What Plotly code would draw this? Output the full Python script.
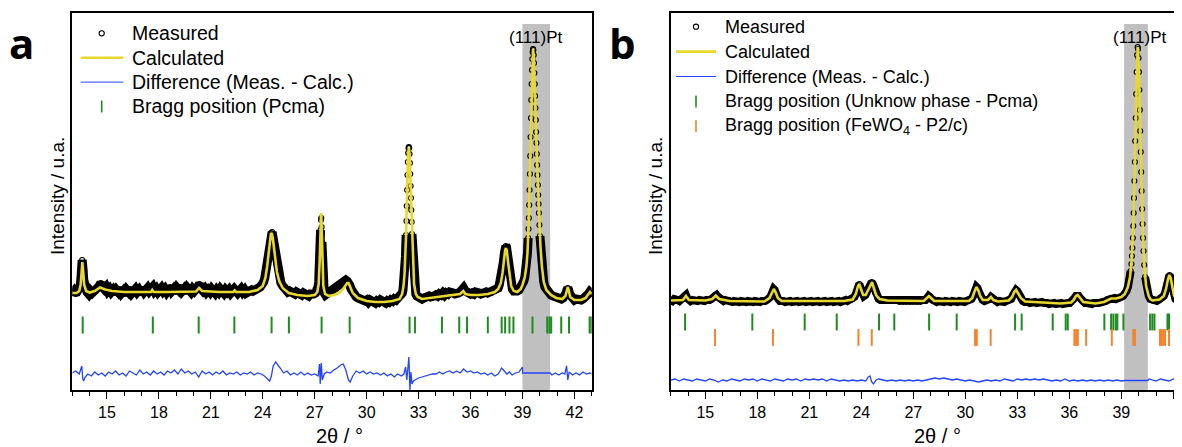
import plotly.graph_objects as go

# ---------------- Panel a data (2theta in degrees, intensity in arbitrary units) ----------------
MEAS_A = [
    (13.0, 97), (13.1, 99), (13.2, 96), (13.3, 98), (13.4, 100), (13.46, 104), (13.5, 112), (13.54, 122),
    (13.57, 130), (13.6, 127), (13.63, 119), (13.66, 110), (13.7, 104), (13.75, 100), (13.85, 98), (13.95, 96),
    (14.05, 99), (14.15, 97), (14.25, 100), (14.35, 99), (14.45, 102), (14.55, 104), (14.65, 107), (14.75, 103),
    (14.85, 101), (14.95, 103), (15.05, 99), (15.15, 101), (15.25, 98), (15.35, 100), (15.45, 97), (15.55, 100),
    (15.65, 98), (15.75, 101), (15.85, 97), (15.95, 99), (16.05, 96), (16.15, 100), (16.25, 98), (16.35, 101),
    (16.45, 97), (16.55, 99), (16.65, 101), (16.75, 98), (16.85, 100), (16.95, 97), (17.05, 101), (17.15, 98),
    (17.25, 100), (17.35, 102), (17.45, 99), (17.55, 101), (17.65, 103), (17.75, 99), (17.85, 101), (17.95, 98),
    (18.05, 100), (18.15, 102), (18.25, 99), (18.35, 101), (18.45, 98), (18.55, 100), (18.65, 103), (18.75, 99),
    (18.85, 101), (18.95, 98), (19.05, 102), (19.15, 100), (19.25, 103), (19.35, 99), (19.45, 101), (19.55, 98),
    (19.65, 102), (19.75, 100), (19.85, 98), (19.95, 101), (20.05, 99), (20.15, 101), (20.25, 103), (20.35, 106),
    (20.45, 101), (20.55, 99), (20.65, 101), (20.75, 98), (20.85, 100), (20.95, 98), (21.05, 101), (21.15, 99),
    (21.25, 97), (21.35, 100), (21.45, 98), (21.55, 101), (21.65, 99), (21.75, 97), (21.85, 100), (21.95, 98),
    (22.05, 100), (22.15, 97), (22.25, 99), (22.35, 101), (22.45, 99), (22.55, 97), (22.65, 99), (22.75, 101),
    (22.85, 98), (22.95, 100), (23.05, 97), (23.15, 99), (23.25, 98), (23.35, 100), (23.45, 99), (23.55, 101),
    (23.65, 100), (23.75, 102), (23.85, 103), (23.95, 105), (24.05, 108), (24.12, 112), (24.18, 118), (24.24, 125),
    (24.3, 134), (24.36, 143), (24.42, 151), (24.48, 157), (24.54, 158), (24.6, 152), (24.66, 144), (24.72, 135),
    (24.78, 127), (24.84, 121), (24.9, 115), (24.97, 111), (25.05, 107), (25.15, 104), (25.25, 101), (25.35, 100),
    (25.45, 98), (25.55, 99), (25.65, 97), (25.75, 98), (25.85, 96), (25.95, 98), (26.05, 96), (26.15, 97),
    (26.25, 95), (26.35, 97), (26.45, 95), (26.55, 96), (26.65, 94), (26.75, 96), (26.85, 95), (26.95, 96),
    (27.05, 97), (27.13, 99), (27.19, 103), (27.23, 108), (27.26, 116), (27.28, 125), (27.3, 136), (27.32, 148),
    (27.34, 160), (27.36, 170), (27.38, 172), (27.4, 163), (27.42, 148), (27.44, 132), (27.46, 118), (27.48, 108),
    (27.51, 101), (27.55, 97), (27.62, 95), (27.7, 96), (27.8, 97), (27.9, 98), (28.0, 100), (28.1, 101),
    (28.2, 103), (28.3, 104), (28.4, 106), (28.5, 107), (28.6, 108), (28.7, 109), (28.8, 110), (28.88, 109),
    (28.95, 108), (29.02, 105), (29.1, 101), (29.2, 97), (29.3, 95), (29.4, 93), (29.5, 92), (29.6, 91),
    (29.7, 90), (29.8, 91), (29.9, 89), (30.0, 90), (30.1, 88), (30.2, 90), (30.3, 88), (30.4, 89),
    (30.5, 87), (30.6, 89), (30.7, 88), (30.8, 90), (30.9, 88), (31.0, 89), (31.1, 87), (31.2, 89),
    (31.3, 88), (31.4, 90), (31.5, 89), (31.6, 91), (31.7, 90), (31.8, 92), (31.9, 93), (32.0, 95),
    (32.06, 97), (32.1, 100), (32.13, 104), (32.16, 109), (32.19, 116), (32.22, 125), (32.24, 133), (32.26, 143),
    (32.28, 155), (32.3, 169), (32.32, 184), (32.34, 200), (32.36, 215), (32.38, 228), (32.4, 237), (32.42, 242),
    (32.44, 243), (32.46, 242), (32.48, 236), (32.5, 227), (32.52, 216), (32.54, 204), (32.56, 192), (32.58, 180),
    (32.6, 168), (32.62, 156), (32.64, 145), (32.66, 135), (32.68, 125), (32.71, 114), (32.74, 106), (32.78, 100),
    (32.84, 96), (32.9, 94), (33.0, 92),
    (33.1, 93), (33.2, 91), (33.3, 92), (33.4, 93), (33.5, 92), (33.6, 94), (33.7, 93), (33.8, 95),
    (33.9, 94), (34.0, 95), (34.1, 94), (34.2, 96), (34.3, 95), (34.4, 97), (34.5, 95), (34.6, 97),
    (34.7, 96), (34.8, 98), (34.9, 96), (35.0, 97), (35.1, 96), (35.2, 98), (35.3, 97), (35.4, 98),
    (35.5, 99), (35.6, 102), (35.7, 99), (35.8, 97), (35.9, 98), (36.0, 96), (36.1, 97), (36.2, 96),
    (36.3, 98), (36.4, 96), (36.5, 97), (36.6, 96), (36.7, 97), (36.8, 96), (36.9, 98), (37.0, 97),
    (37.1, 98), (37.2, 97), (37.3, 99), (37.4, 99), (37.5, 100), (37.6, 102), (37.66, 105), (37.72, 109),
    (37.78, 114), (37.84, 120), (37.9, 128), (37.95, 136), (38.0, 142), (38.04, 144), (38.08, 143), (38.12, 138),
    (38.17, 129), (38.22, 119), (38.28, 110), (38.35, 104), (38.42, 101), (38.5, 99), (38.6, 98), (38.7, 99),
    (38.8, 100), (38.9, 102), (39.0, 106), (39.08, 109), (39.14, 113), (39.19, 118), (39.23, 124), (39.26, 130),
    (39.29, 137), (39.31, 144), (39.33, 152), (39.35, 161), (39.37, 172), (39.39, 185), (39.41, 200), (39.43, 216),
    (39.45, 234), (39.47, 253), (39.49, 272), (39.51, 290), (39.53, 306), (39.55, 320), (39.57, 331), (39.59, 338),
    (39.61, 341), (39.63, 340), (39.65, 335), (39.67, 327), (39.69, 317), (39.71, 306), (39.73, 294), (39.75, 282),
    (39.77, 270), (39.79, 258), (39.81, 247), (39.83, 236), (39.85, 225), (39.87, 215), (39.89, 205), (39.91, 195),
    (39.93, 186), (39.95, 177), (39.98, 165), (40.01, 154), (40.04, 144), (40.08, 133), (40.12, 124), (40.17, 115),
    (40.23, 108), (40.3, 103), (40.38, 100), (40.46, 98), (40.55, 97), (40.65, 95), (40.75, 94), (40.85, 93),
    (40.95, 92), (41.05, 91), (41.15, 92), (41.25, 91), (41.35, 92), (41.45, 94), (41.52, 97), (41.57, 100),
    (41.62, 102), (41.67, 100), (41.72, 96), (41.8, 93), (41.9, 91), (42.0, 90), (42.1, 91), (42.2, 90),
    (42.3, 91), (42.4, 90), (42.5, 91), (42.6, 92), (42.7, 94), (42.8, 96), (42.88, 98), (42.95, 97), (43.0, 96),
]

CALC_A = [
    (13.00, 97), (13.25, 97), (13.40, 99), (13.48, 105), (13.53, 116), (13.58, 128), (13.63, 118), (13.69, 105),
    (13.80, 99), (14.00, 97.5), (14.30, 99), (14.60, 102.5), (14.90, 100.5), (15.30, 99), (16.00, 98),
    (17.00, 98), (17.55, 98), (17.62, 100), (17.70, 98), (18.50, 98), (19.50, 98), (20.15, 98.5), (20.32, 102),
    (20.50, 99), (21.50, 98), (22.30, 98), (22.38, 99.5), (22.46, 98), (23.20, 98), (23.70, 100), (24.00, 104),
    (24.15, 112), (24.25, 123), (24.33, 136), (24.40, 148), (24.47, 156), (24.52, 157), (24.58, 152), (24.65, 142),
    (24.73, 129), (24.82, 118), (24.95, 109), (25.15, 102), (25.50, 97), (26.00, 95), (26.60, 94), (27.00, 95),
    (27.15, 98), (27.23, 106), (27.29, 130), (27.33, 160), (27.37, 177), (27.41, 158), (27.45, 125), (27.50, 104),
    (27.60, 96), (27.80, 94), (28.10, 95), (28.40, 97), (28.60, 100), (28.75, 104), (28.88, 107), (28.96, 107),
    (29.05, 103), (29.20, 97), (29.50, 92), (30.00, 89), (30.50, 88), (31.00, 88), (31.50, 89), (31.90, 91),
    (32.05, 96), (32.13, 104), (32.19, 116), (32.24, 133), (32.28, 155), (32.32, 184), (32.36, 215), (32.40, 237),
    (32.44, 242), (32.48, 236), (32.52, 216), (32.56, 192), (32.60, 168), (32.64, 145), (32.68, 125), (32.74, 106),
    (32.84, 96), (32.95, 93), (33.20, 91), (33.60, 92), (34.00, 93), (34.50, 94), (35.00, 95), (35.40, 96),
    (35.58, 99), (35.70, 96), (36.00, 95), (36.50, 95), (37.00, 96), (37.40, 98), (37.60, 101), (37.75, 107),
    (37.85, 117), (37.93, 130), (38.00, 140), (38.05, 142), (38.10, 139), (38.17, 128), (38.25, 114), (38.35, 104),
    (38.50, 99), (38.70, 98), (38.90, 101), (39.00, 105), (39.14, 113), (39.23, 124), (39.29, 137), (39.33, 152),
    (39.37, 172), (39.41, 200), (39.45, 234), (39.49, 272), (39.53, 306), (39.57, 331), (39.61, 341), (39.65, 335),
    (39.69, 317), (39.73, 294), (39.77, 270), (39.81, 247), (39.85, 225), (39.89, 205), (39.93, 186), (39.98, 165),
    (40.04, 144), (40.12, 124), (40.23, 108), (40.38, 100), (40.55, 97), (40.65, 95), (40.95, 92), (41.30, 91),
    (41.48, 94), (41.56, 99), (41.62, 103), (41.68, 99), (41.76, 93), (42.00, 90), (42.40, 90), (42.65, 92),
    (42.80, 96), (42.90, 98), (43.00, 96),
]

DIFF_A = [
    (13.0, 17), (13.2, 19), (13.4, 16), (13.55, 24), (13.6, 12), (13.65, 9), (13.75, 13), (13.9, 16),
    (14.1, 14), (14.3, 18), (14.5, 15), (14.7, 17), (14.9, 14), (15.1, 18), (15.3, 16), (15.5, 19),
    (15.7, 15), (15.9, 17), (16.1, 14), (16.3, 19), (16.5, 17), (16.7, 15), (16.9, 20), (17.1, 16),
    (17.3, 18), (17.5, 15), (17.7, 19), (17.9, 16), (18.1, 18), (18.3, 15), (18.5, 19), (18.7, 17),
    (18.9, 20), (19.1, 16), (19.3, 21), (19.5, 17), (19.7, 19), (19.9, 16), (20.1, 18), (20.3, 13),
    (20.5, 19), (20.7, 16), (20.9, 18), (21.1, 15), (21.3, 18), (21.5, 16), (21.7, 19), (21.9, 15),
    (22.1, 17), (22.3, 16), (22.5, 18), (22.7, 15), (22.9, 17), (23.1, 16), (23.3, 18), (23.5, 15),
    (23.7, 17), (23.9, 16), (24.1, 14), (24.3, 11), (24.4, 9), (24.5, 14), (24.6, 24), (24.75, 28),
    (24.9, 25), (25.05, 21), (25.2, 17), (25.4, 19), (25.6, 15), (25.8, 17), (26.0, 15), (26.2, 18),
    (26.4, 15), (26.6, 17), (26.8, 15), (27.0, 16), (27.2, 14), (27.28, 26), (27.32, 6), (27.38, 27),
    (27.44, 10), (27.55, 16), (27.7, 18), (27.9, 17), (28.1, 20), (28.3, 22), (28.5, 25), (28.65, 26),
    (28.8, 20), (28.95, 10), (29.05, 8), (29.2, 14), (29.4, 19), (29.6, 17), (29.8, 19), (30.0, 16),
    (30.2, 18), (30.4, 16), (30.6, 17), (30.8, 15), (31.0, 17), (31.2, 14), (31.4, 16), (31.6, 13),
    (31.8, 16), (32.0, 14), (32.15, 16), (32.25, 23), (32.32, 10), (32.38, 25), (32.44, 33), (32.5, 0),
    (32.56, 18), (32.62, 6), (32.7, 9), (32.8, 10), (33.0, 12), (33.2, 13), (33.4, 14), (33.6, 15),
    (33.8, 16), (34.0, 16), (34.2, 18), (34.4, 16), (34.6, 18), (34.8, 19), (35.0, 17), (35.2, 19),
    (35.4, 17), (35.6, 21), (35.8, 18), (36.0, 19), (36.2, 17), (36.4, 18), (36.6, 16), (36.8, 17),
    (37.0, 15), (37.2, 17), (37.4, 14), (37.6, 16), (37.8, 22), (37.95, 19), (38.1, 16), (38.25, 18),
    (38.4, 15), (38.6, 17), (38.8, 18), (39.0, 23), (39.01, 17), (40.6, 17), (40.7, 15), (40.9, 17),
    (41.1, 15), (41.3, 17), (41.45, 16), (41.55, 24), (41.62, 10), (41.7, 18), (41.9, 15), (42.1, 17),
    (42.3, 15), (42.5, 18), (42.7, 16), (42.9, 17), (43.0, 16),
]

BRAGG_A = [13.60, 17.65, 20.30, 22.36, 24.51, 25.51, 27.40, 29.02, 32.48, 32.79, 34.35, 35.35, 35.80,
           37.00, 37.80, 38.00, 38.25, 38.48, 39.58, 40.43, 40.56, 40.66, 41.24, 41.69, 42.88, 42.98]

# ---------------- Panel b data ----------------
MEAS_B = [
    (13.0, 90), (13.1, 89), (13.2, 91), (13.3, 89), (13.4, 90), (13.5, 89), (13.6, 90), (13.7, 91),
    (13.8, 93), (13.88, 95), (13.95, 92), (14.05, 90), (14.15, 89), (14.25, 90), (14.35, 89), (14.45, 90),
    (14.55, 89), (14.65, 90), (14.75, 89), (14.85, 90), (14.95, 89), (15.05, 90), (15.15, 89), (15.25, 90),
    (15.35, 91), (15.45, 93), (15.55, 95), (15.65, 95), (15.75, 93), (15.85, 91), (15.95, 90), (16.05, 89),
    (16.15, 90), (16.25, 89), (16.35, 90), (16.45, 89), (16.55, 88), (16.65, 89), (16.75, 88), (16.85, 89),
    (16.95, 88), (17.05, 89), (17.15, 88), (17.25, 89), (17.35, 88), (17.45, 89), (17.55, 88), (17.65, 89),
    (17.75, 88), (17.85, 89), (17.95, 88), (18.05, 89), (18.15, 88), (18.25, 89), (18.35, 88), (18.45, 89),
    (18.55, 90), (18.65, 91), (18.75, 93), (18.82, 96), (18.88, 99), (18.94, 101), (19.0, 100), (19.06, 97),
    (19.12, 93), (19.2, 91), (19.3, 89), (19.4, 90), (19.5, 89), (19.6, 88), (19.7, 89), (19.8, 88),
    (19.9, 89), (20.0, 88), (20.1, 89), (20.2, 88), (20.3, 89), (20.4, 88), (20.5, 89), (20.6, 88),
    (20.7, 89), (20.8, 88), (20.9, 89), (21.0, 88), (21.1, 89), (21.2, 88), (21.3, 89), (21.4, 88),
    (21.5, 89), (21.6, 88), (21.7, 89), (21.8, 88), (21.9, 89), (22.0, 88), (22.1, 89), (22.2, 88),
    (22.3, 89), (22.4, 88), (22.5, 89), (22.6, 88), (22.7, 89), (22.8, 88), (22.9, 89), (23.0, 89),
    (23.1, 90), (23.2, 89), (23.3, 90), (23.4, 90), (23.5, 91), (23.6, 93), (23.7, 97), (23.76, 101),
    (23.82, 105), (23.88, 106), (23.94, 103), (24.0, 98), (24.07, 95), (24.15, 94), (24.23, 95), (24.3, 97),
    (24.38, 100), (24.46, 104), (24.54, 107), (24.6, 108), (24.66, 106), (24.72, 102), (24.8, 97), (24.9, 93),
    (25.0, 91), (25.1, 90), (25.2, 90), (25.3, 89), (25.4, 90), (25.5, 89), (25.6, 90), (25.7, 89),
    (25.8, 89), (25.9, 90), (26.0, 89), (26.1, 89), (26.2, 88), (26.3, 89), (26.4, 88), (26.5, 89),
    (26.6, 88), (26.7, 89), (26.8, 88), (26.9, 89), (27.0, 88), (27.1, 89), (27.2, 88), (27.3, 89),
    (27.4, 88), (27.5, 89), (27.6, 89), (27.7, 90), (27.8, 92), (27.88, 94), (27.95, 93), (28.05, 91),
    (28.15, 89), (28.25, 89), (28.35, 88), (28.45, 89), (28.55, 88), (28.65, 89), (28.75, 88), (28.85, 89),
    (28.95, 88), (29.05, 89), (29.15, 88), (29.25, 89), (29.35, 88), (29.45, 89), (29.55, 88), (29.65, 89),
    (29.75, 88), (29.85, 89), (29.95, 88), (30.05, 89), (30.15, 89), (30.25, 90), (30.35, 91), (30.45, 94),
    (30.52, 98), (30.58, 101), (30.64, 103), (30.7, 102), (30.76, 99), (30.82, 95), (30.9, 92), (31.0, 90),
    (31.1, 89), (31.2, 89), (31.3, 90), (31.4, 91), (31.48, 93), (31.56, 92), (31.65, 90), (31.75, 89),
    (31.85, 88), (31.95, 89), (32.05, 88), (32.15, 89), (32.25, 88), (32.35, 89), (32.45, 89), (32.55, 90),
    (32.65, 91), (32.72, 94), (32.79, 97), (32.86, 99), (32.93, 100), (33.0, 99), (33.07, 96), (33.14, 93),
    (33.22, 91), (33.32, 89), (33.42, 88), (33.52, 89), (33.62, 88), (33.72, 87), (33.82, 88), (33.92, 87),
    (34.02, 88), (34.12, 87), (34.22, 88), (34.32, 87), (34.42, 88), (34.52, 87), (34.62, 88), (34.72, 87),
    (34.82, 86), (34.92, 87), (35.02, 86), (35.12, 87), (35.22, 86), (35.32, 87), (35.42, 86), (35.52, 87),
    (35.62, 86), (35.72, 87), (35.82, 86), (35.92, 87), (36.02, 87), (36.12, 88), (36.22, 90), (36.3, 92),
    (36.38, 94), (36.46, 95), (36.54, 94), (36.62, 92), (36.7, 90), (36.8, 88), (36.9, 87), (37.0, 87),
    (37.1, 86), (37.2, 87), (37.3, 86), (37.4, 87), (37.5, 86), (37.6, 87), (37.7, 87), (37.8, 87),
    (37.9, 88), (38.0, 88), (38.1, 89), (38.2, 90), (38.3, 91), (38.4, 92), (38.5, 92), (38.6, 92),
    (38.7, 91), (38.8, 91), (38.9, 92), (39.0, 93), (39.1, 94), (39.2, 96), (39.3, 99), (39.38, 103),
    (39.45, 108), (39.5, 113), (39.54, 119), (39.58, 126), (39.61, 134), (39.64, 142), (39.665, 152), (39.69, 164),
    (39.71, 177), (39.73, 192), (39.755, 209), (39.78, 228), (39.8, 249), (39.83, 272), (39.855, 296), (39.88, 318),
    (39.91, 335), (39.94, 343), (39.965, 341), (39.99, 332), (40.015, 318), (40.04, 300), (40.065, 280), (40.09, 259),
    (40.12, 238), (40.145, 218), (40.17, 199), (40.2, 181), (40.225, 166), (40.25, 152), (40.28, 139), (40.32, 125),
    (40.37, 113), (40.43, 104), (40.5, 98), (40.58, 94), (40.67, 91), (40.77, 90), (40.85, 89), (40.95, 90),
    (41.05, 89), (41.15, 90), (41.25, 91), (41.35, 92), (41.45, 94), (41.52, 97), (41.58, 102), (41.63, 107),
    (41.68, 111), (41.73, 114), (41.78, 115), (41.83, 113), (41.88, 108), (41.93, 102), (41.98, 97), (42.05, 93),
    (42.12, 91), (42.2, 90), (42.3, 89), (42.4, 90), (42.5, 89),
]

CALC_B = [
    (13.00, 89.5), (13.70, 90), (13.88, 94), (14.05, 90), (15.00, 89.5), (15.40, 91), (15.60, 94.5), (15.80, 91),
    (16.40, 89), (18.40, 88.5), (18.70, 92), (18.85, 97), (18.95, 101), (19.05, 98), (19.18, 92), (19.40, 89),
    (23.00, 89), (23.50, 90.5), (23.68, 96), (23.80, 103.5), (23.88, 106), (23.96, 102), (24.10, 95),
    (24.25, 95), (24.40, 101), (24.55, 107), (24.62, 108), (24.72, 102), (24.85, 95), (25.05, 91), (25.50, 89.5),
    (27.60, 89), (27.80, 92), (27.90, 94), (28.02, 92), (28.20, 89), (30.20, 89), (30.40, 92), (30.52, 98),
    (30.64, 103), (30.74, 100), (30.86, 94), (31.00, 90), (31.30, 90), (31.48, 93), (31.62, 90), (31.90, 88.5),
    (32.50, 89.5), (32.70, 93), (32.82, 98), (32.93, 100), (33.05, 97), (33.20, 92), (33.45, 88.5), (34.50, 87.5),
    (35.50, 86.5), (36.10, 87.5), (36.25, 90), (36.38, 94), (36.48, 95), (36.60, 92.5), (36.80, 88), (37.50, 86.5),
    (38.00, 88), (38.40, 91.5), (38.70, 91.5), (39.00, 93), (39.20, 96), (39.38, 103), (39.50, 113), (39.58, 126),
    (39.64, 142), (39.69, 164), (39.73, 192), (39.78, 228), (39.83, 272), (39.88, 318), (39.91, 335), (39.94, 343),
    (39.965, 341), (39.99, 332), (40.04, 300), (40.09, 259), (40.145, 218), (40.20, 181), (40.25, 152), (40.32, 125),
    (40.43, 104), (40.58, 94), (40.67, 91), (40.80, 89.5), (41.20, 90.5), (41.45, 94), (41.58, 101), (41.68, 110),
    (41.77, 115), (41.85, 112), (41.93, 103), (42.03, 95), (42.15, 91), (42.50, 89.5),
]

DIFF_B = [
    (13.0, 10), (13.25, 11), (13.5, 9), (13.75, 11), (14.0, 10), (14.25, 9), (14.5, 11), (14.75, 10),
    (15.0, 9), (15.25, 11), (15.5, 10), (15.75, 8), (16.0, 10), (16.25, 9), (16.5, 11), (16.75, 10),
    (17.0, 9), (17.25, 11), (17.5, 10), (17.75, 11), (18.0, 9), (18.25, 11), (18.5, 10), (18.75, 9),
    (19.0, 11), (19.25, 10), (19.5, 9), (19.75, 11), (20.0, 10), (20.25, 11), (20.5, 9), (20.75, 11),
    (21.0, 10), (21.25, 11), (21.5, 10), (21.75, 11), (22.0, 9), (22.25, 11), (22.5, 10), (22.75, 9),
    (23.0, 10), (23.25, 9), (23.5, 10), (23.75, 9), (24.0, 10), (24.25, 9), (24.4, 13), (24.5, 14),
    (24.6, 8), (24.7, 6), (24.85, 10), (25.0, 11), (25.25, 10), (25.5, 9), (25.75, 10), (26.0, 9),
    (26.25, 10), (26.5, 9), (26.75, 10), (27.0, 9), (27.25, 10), (27.5, 9), (27.75, 10), (28.0, 11),
    (28.25, 12), (28.5, 11), (28.75, 12), (29.0, 11), (29.25, 10), (29.5, 11), (29.75, 10), (30.0, 9),
    (30.25, 10), (30.5, 9), (30.75, 8), (31.0, 9), (31.25, 10), (31.5, 9), (31.75, 10), (32.0, 9),
    (32.25, 11), (32.5, 10), (32.75, 9), (33.0, 11), (33.25, 10), (33.5, 11), (33.75, 10), (34.0, 11),
    (34.25, 10), (34.5, 11), (34.75, 10), (35.0, 9), (35.25, 10), (35.5, 9), (35.75, 11), (36.0, 9),
    (36.25, 10), (36.5, 9), (36.75, 10), (37.0, 9), (37.25, 10), (37.5, 9), (37.75, 10), (38.0, 9),
    (38.25, 10), (38.5, 9), (38.75, 10), (39.0, 9), (39.16, 9.5), (40.53, 9.5), (40.6, 11), (40.8, 10),
    (41.0, 9), (41.25, 11), (41.5, 10), (41.75, 9), (42.0, 11), (42.25, 10), (42.5, 10),
]

BRAGG_B_PCMA = [13.83, 17.71, 20.73, 22.58, 25.02, 25.90, 27.91, 29.50, 32.87, 33.25, 35.04, 35.79, 35.91,
                38.02, 38.41, 38.54, 38.68, 38.77, 39.12, 40.66, 40.79, 40.91, 41.66, 41.75, 42.20, 42.33, 42.43]
BRAGG_B_FEWO4 = [15.56, 18.90, 23.83, 24.60, 30.56, 30.66, 31.46, 36.29, 36.39, 36.49, 36.97, 38.45,
                 39.69, 39.79, 41.23, 41.33, 41.42, 41.52, 41.75]

# excluded (111)Pt regions and label
PT_BAND_A = (39.0, 40.6)
PT_BAND_B = (39.16, 40.53)
PT_LABEL = "(111)Pt"

LABELS_A = ["Measured", "Calculated", "Difference (Meas. - Calc.)", "Bragg position (Pcma)"]
LABELS_B = ["Measured", "Calculated", "Difference (Meas. - Calc.)", "Bragg position (Unknow phase - Pcma)",
            "Bragg position (FeWO<sub>4</sub> - P2/c)"]

# ---------------- styling ----------------
FONT = "Liberation Sans, Arial, sans-serif"
BLACK = "#000000"
YELLOW = "#e8d82c"
BLUE = "#2244ff"
GREEN = "#1e8c1e"
ORANGE = "#f5832c"
GRAY = "#c0c0c0"

OFF = 8                      # page body margin of the html page
W, H = 1182 - OFF, 447 - OFF  # figure size so that figure + margin fills the window
Y_TOP = 376.7                # intensity axis span
BAND_TOP = 366
TICK_Y_A = 65
TICK_Y_B1 = 68
TICK_Y_B2 = 52.5


def xp(px):
    return (px - OFF) / W


def yp(py):
    return 1 - (py - OFF) / H


def unzip(pairs):
    return [p[0] for p in pairs], [p[1] for p in pairs]


def mask_above(ys, thr):
    return [y if y <= thr else None for y in ys]


fig = go.Figure()


def add_panel(meas, calc, diff, braggs, xa, ya, band_w, thr):
    mx, my = unzip(meas)
    cx, cy = unzip(calc)
    dx, dy = unzip(diff)
    fig.add_trace(go.Scatter(x=mx, y=mask_above(my, thr), mode="lines", line=dict(color=BLACK, width=band_w),
                             hoverinfo="skip", xaxis=xa, yaxis=ya))
    fig.add_trace(go.Scatter(x=mx, y=my, mode="markers", name="Measured",
                             marker=dict(symbol="circle-open", size=5, color=BLACK, line=dict(width=1.1)),
                             xaxis=xa, yaxis=ya))
    fig.add_trace(go.Scatter(x=cx, y=cy, mode="lines", name="Calculated", line=dict(color=YELLOW, width=2.6),
                             xaxis=xa, yaxis=ya))
    fig.add_trace(go.Scatter(x=dx, y=dy, mode="lines", name="Difference", line=dict(color=BLUE, width=1.3),
                             xaxis=xa, yaxis=ya))
    for xs, ylev, col in braggs:
        fig.add_trace(go.Scatter(x=xs, y=[ylev] * len(xs), mode="markers",
                                 marker=dict(symbol="line-ns-open", size=12, color=col, line=dict(width=2, color=col)),
                                 xaxis=xa, yaxis=ya))


add_panel(MEAS_A, CALC_A, DIFF_A, [(BRAGG_A, TICK_Y_A, GREEN)], "x", "y", 9, 160)
add_panel(MEAS_B, CALC_B, DIFF_B, [(BRAGG_B_PCMA, TICK_Y_B1, GREEN), (BRAGG_B_FEWO4, TICK_Y_B2, ORANGE)],
          "x2", "y2", 8, 120)

shapes = [
    dict(type="rect", xref="x", yref="y", x0=PT_BAND_A[0], x1=PT_BAND_A[1], y0=0, y1=BAND_TOP,
         fillcolor=GRAY, line=dict(width=0), layer="below"),
    dict(type="rect", xref="x2", yref="y2", x0=PT_BAND_B[0], x1=PT_BAND_B[1], y0=0, y1=BAND_TOP,
         fillcolor=GRAY, line=dict(width=0), layer="below"),
]
annotations = []


def add_legend(labels, kinds, text_x, sym_x, lx0, lx1, y0, dy, size):
    for i, (lab, kind) in enumerate(zip(labels, kinds)):
        y = y0 + i * dy
        annotations.append(dict(text=lab, x=xp(text_x), y=yp(y), xref="paper", yref="paper", showarrow=False,
                                xanchor="left", yanchor="middle", font=dict(size=size)))
        if kind == "circle":
            shapes.append(dict(type="circle", xref="paper", yref="paper", x0=xp(sym_x - 2.6), x1=xp(sym_x + 2.6),
                               y0=yp(y - 2.6), y1=yp(y + 2.6), line=dict(color=BLACK, width=1.1)))
        elif kind in ("yellow", "blue"):
            col, wd = (YELLOW, 2.6) if kind == "yellow" else (BLUE, 1.0)
            shapes.append(dict(type="line", xref="paper", yref="paper", x0=xp(lx0), x1=xp(lx1), y0=yp(y), y1=yp(y),
                               line=dict(color=col, width=wd)))
        else:
            col = GREEN if kind == "green" else ORANGE
            shapes.append(dict(type="line", xref="paper", yref="paper", x0=xp(sym_x), x1=xp(sym_x),
                               y0=yp(y - 6), y1=yp(y + 6), line=dict(color=col, width=1.6)))


add_legend(LABELS_A, ["circle", "yellow", "blue", "green"], 130, 101.7, 80.7, 123.3, 33.3, 24.4, 19.5)
add_legend(LABELS_B, ["circle", "yellow", "blue", "green", "orange"], 722.5, 696, 676, 716, 26.7, 24.9, 18)

annotations += [
    dict(text=PT_LABEL, x=39.79, y=352, xref="x", yref="y", showarrow=False, xanchor="center", yanchor="middle",
         font=dict(size=17)),
    dict(text=PT_LABEL, x=40.08, y=352.5, xref="x2", yref="y2", showarrow=False, xanchor="center",
         yanchor="middle", font=dict(size=17)),
    dict(text="<b>a</b>", x=xp(21), y=yp(42), xref="paper", yref="paper", showarrow=False, xanchor="center",
         yanchor="middle", font=dict(family="Open Sans, DejaVu Sans", size=42)),
    dict(text="<b>b</b>", x=xp(622), y=yp(42), xref="paper", yref="paper", showarrow=False, xanchor="center",
         yanchor="middle", font=dict(family="Open Sans, DejaVu Sans", size=42)),
    dict(text="Intensity / u.a.", x=xp(57), y=yp(196), xref="paper", yref="paper", showarrow=False,
         xanchor="center", yanchor="middle", textangle=-90, font=dict(size=19)),
    dict(text="Intensity / u.a.", x=xp(655), y=yp(196), xref="paper", yref="paper", showarrow=False,
         xanchor="center", yanchor="middle", textangle=-90, font=dict(size=19)),
    dict(text="2θ / °", x=xp(339), y=yp(436), xref="paper", yref="paper", showarrow=False,
         xanchor="center", yanchor="middle", font=dict(size=20)),
    dict(text="2θ / °", x=xp(937), y=yp(436), xref="paper", yref="paper", showarrow=False,
         xanchor="center", yanchor="middle", font=dict(size=20)),
]

ydom = [yp(390), yp(13.3)]
xaxis_common = dict(showgrid=False, zeroline=False, showline=True, linecolor=BLACK, linewidth=1.5,
                    mirror=True, ticks="outside", ticklen=7, tickwidth=1.2, tickcolor=BLACK, tick0=15, dtick=3,
                    minor=dict(dtick=1, ticks="outside", ticklen=4, tickwidth=1.2, tickcolor=BLACK),
                    tickfont=dict(family=FONT, size=16, color=BLACK), ticklabelstandoff=0, automargin=False)
yaxis_common = dict(range=[0, Y_TOP], domain=ydom, showgrid=False, zeroline=False, showline=True, linecolor=BLACK,
                    linewidth=1.5, showticklabels=False, ticks="", automargin=False)

fig.update_layout(
    width=W, height=H, margin=dict(l=0, r=0, t=0, b=0, autoexpand=False),
    paper_bgcolor="white", plot_bgcolor="white", showlegend=False,
    font=dict(family=FONT, size=19, color=BLACK),
    xaxis={**xaxis_common, "range": [13, 43], "domain": [xp(72.3), xp(591.7)], "anchor": "y"},
    yaxis={**yaxis_common, "anchor": "x", "mirror": True},
    xaxis2={**xaxis_common, "range": [13, 42.5], "domain": [xp(670.7), 1.0], "anchor": "y2"},
    yaxis2={**yaxis_common, "anchor": "x2", "mirror": False},
    shapes=shapes,
    annotations=annotations,
)

fig.write_html("out.html")
